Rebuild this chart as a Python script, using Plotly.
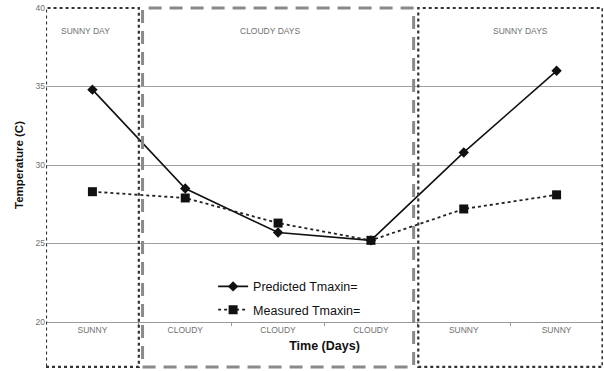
import plotly.graph_objects as go

# Daily weather condition for each day and the max temperature series
day_labels = ["SUNNY", "CLOUDY", "CLOUDY", "CLOUDY", "SUNNY", "SUNNY"]
predicted_tmax = [34.8, 28.5, 25.7, 25.2, 30.8, 36.0]
measured_tmax = [28.3, 27.9, 26.3, 25.2, 27.2, 28.1]
y_ticks = [20, 25, 30, 35, 40]

# Period boxes: (label, first day index, last day index)
periods = [("SUNNY DAY", 0, 0), ("CLOUDY DAYS", 1, 3), ("SUNNY DAYS", 4, 5)]
label_shift = [-7, -8, 10]

x = list(range(len(day_labels)))

fig = go.Figure()

fig.add_trace(go.Scatter(
    x=x, y=predicted_tmax, name="Predicted Tmaxin=",
    mode="lines+markers", legendgroup="p",
    line=dict(color="#111111", width=1.6),
    marker=dict(symbol="diamond", size=8, color="#111111"),
))
fig.add_trace(go.Scatter(
    x=x, y=measured_tmax, name="Measured Tmaxin=",
    mode="lines+markers", legendgroup="m",
    line=dict(color="#222222", width=1.8, dash="dot"),
    marker=dict(symbol="square", size=9, color="#111111"),
))

# Period outlines: sunny spans dotted, cloudy span dashed
box_bottom = -0.143
for (label, i0, i1), shift in zip(periods, label_shift):
    cloudy = label.startswith("CLOUDY")
    if cloudy:
        x0, x1 = i0 - 0.46, i1 + 0.46
        line = dict(color="#8a8a8a", width=3, dash="13px,8px")
    elif i0 == 0:
        x0, x1 = i0 - 0.5, i1 + 0.5
        line = dict(color="#333333", width=2.2, dash="dot")
    else:
        x0, x1 = i0 - 0.49, i1 + 0.495
        line = dict(color="#333333", width=2.2, dash="dot")
    fig.add_shape(type="rect", xref="x", yref="paper",
                  x0=x0, x1=x1, y0=box_bottom, y1=1.0,
                  line=line, fillcolor="rgba(0,0,0,0)", layer="above")
    fig.add_annotation(x=(i0 + i1) / 2, y=0.95, xref="x", yref="paper",
                       xshift=shift, text=label, showarrow=False,
                       font=dict(size=8.5, color="#707070", family="Arial"))

fig.update_layout(
    width=604, height=371,
    margin=dict(l=46, r=1, t=8, b=49),
    paper_bgcolor="white", plot_bgcolor="white",
    font=dict(family="Arial", color="#222222"),
    showlegend=True,
    legend=dict(x=0.3, y=0.16, xanchor="left", yanchor="top",
                bgcolor="rgba(0,0,0,0)", font=dict(size=12.5, color="#111111"),
                tracegroupgap=4, itemwidth=30),
    xaxis=dict(
        range=[-0.5, 5.5], tickmode="array", tickvals=x, ticktext=day_labels,
        tickfont=dict(size=8.5, color="#707070"), ticks="", showgrid=False,
        zeroline=False, showline=True, linecolor="#999999", linewidth=1.2,
        minor=dict(tickmode="array", tickvals=[i + 0.5 for i in x[:-1]],
                   ticks="outside", ticklen=3, tickcolor="#999999"),
        title=dict(text="<b>Time (Days)</b>", font=dict(size=12.5, color="#111111"),
                   standoff=6),
    ),
    yaxis=dict(
        range=[20, 40], tickvals=y_ticks,
        tickfont=dict(size=8.5, color="#707070"),
        showgrid=True, gridcolor="#a0a0a0", gridwidth=1.2, zeroline=False,
        showline=False, ticks="",
        title=dict(text="<b>Temperature (C)</b>", font=dict(size=11.5, color="#111111"),
                   standoff=9),
    ),
)

fig.write_html("out.html")
